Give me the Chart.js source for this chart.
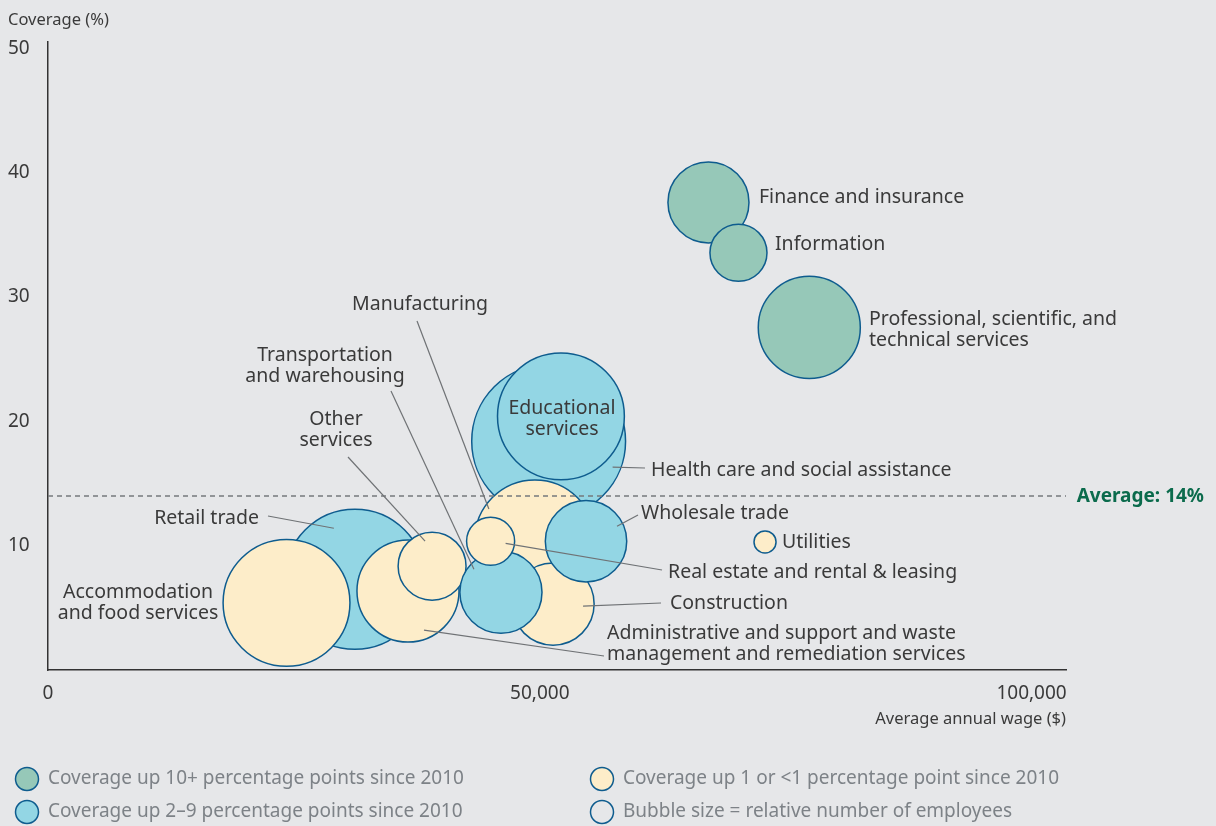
<!DOCTYPE html>
<html>
<head>
<meta charset="utf-8">
<script src="https://cdn.jsdelivr.net/npm/chart.js@4"></script>
<style>
  html, body { margin: 0; padding: 0; background: #e6e7e9; }
  canvas { display: block; }
</style>
</head>
<body>
<canvas id="bubble" width="1216" height="826"></canvas>
<script>
// draw order matters: later bubbles sit on top
var industries = [
  'Retail trade', 'Accommodation and food services', 'Administrative and support',
  'Other services', 'Health care and social assistance', 'Educational services',
  'Manufacturing', 'Construction', 'Transportation and warehousing',
  'Real estate and rental & leasing', 'Wholesale trade', 'Finance and insurance',
  'Information', 'Professional, scientific, and technical services', 'Utilities'
];
var avgWage  = [31200, 24250, 36600, 39050, 50900, 52150, 49500, 51350, 46050, 45000, 54700, 67150, 70200, 77400, 72900];
var coverage = [7.3, 5.4, 6.35, 8.35, 18.4, 20.4, 10.45, 5.3, 6.25, 10.35, 10.35, 37.6, 33.55, 27.55, 10.3];
var employees = [16.6, 13.6, 8.8, 3.9, 20.0, 13.6, 12.2, 5.7, 5.7, 1.95, 5.6, 5.55, 2.75, 8.8, 0.41]; // millions
var growth = ['mid', 'low', 'low', 'low', 'mid', 'mid', 'low', 'low', 'mid', 'low', 'mid', 'high', 'high', 'high', 'low'];
var averageCoverage = 14;
var xTicks = [0, 50000, 100000];
var yTicks = [10, 20, 30, 40, 50];

var groupColors = { high: '#96c8b8', mid: '#93d6e4', low: '#fdedc9' };
var edge = '#0e5c8e';
var ink = '#3a3a3a';
var font = '"Noto Sans", sans-serif';

var points = avgWage.map(function(w, i) {
  return { x: w, y: coverage[i], r: 17.2 * Math.sqrt(employees[i]) };
});

// text spots: i = bubble index, lead = [labelX, labelY, dx, dy from bubble centre]
var labelSpots = [
  { i: 11, lines: ['Finance and insurance'], x: 759, y: 197, align: 'left' },
  { i: 12, lines: ['Information'], x: 775, y: 244, align: 'left' },
  { i: 13, lines: ['Professional, scientific, and', 'technical services'], x: 869, y: 319, align: 'left' },
  { i: 5, lines: ['Educational', 'services'], x: 562, y: 408, align: 'center' },
  { i: 4, lines: ['Health care and social assistance'], x: 651, y: 470, align: 'left', lead: [645, 468, 64, 26] },
  { i: 6, lines: ['Manufacturing'], x: 420, y: 304, align: 'center', lead: [417, 321, -46, -31] },
  { i: 8, lines: ['Transportation', 'and warehousing'], x: 325, y: 355, align: 'center', lead: [391, 391, -27, -23] },
  { i: 3, lines: ['Other', 'services'], x: 336, y: 419, align: 'center', lead: [348, 457, -7, -25] },
  { i: 0, lines: ['Retail trade'], x: 259, y: 518, align: 'right', lead: [268, 516, -21, -51] },
  { i: 1, lines: ['Accommodation', 'and food services'], x: 138, y: 592, align: 'center' },
  { i: 10, lines: ['Wholesale trade'], x: 641, y: 513, align: 'left', lead: [638, 515, 31, -15] },
  { i: 14, lines: ['Utilities'], x: 782, y: 542, align: 'left' },
  { i: 9, lines: ['Real estate and rental & leasing'], x: 668, y: 572, align: 'left', lead: [662, 570, 15, 2] },
  { i: 7, lines: ['Construction'], x: 670, y: 603, align: 'left', lead: [661, 603, 30, 2] },
  { i: 2, lines: ['Administrative and support and waste', 'management and remediation services'], x: 607, y: 633, align: 'left', lead: [604, 656, 16, 39] }
];

var legendItems = [
  { text: 'Coverage up 10+ percentage points since 2010', fill: groupColors.high, x: 27, y: 779 },
  { text: 'Coverage up 2\u20139 percentage points since 2010', fill: groupColors.mid, x: 27, y: 812 },
  { text: 'Coverage up 1 or <1 percentage point since 2010', fill: groupColors.low, x: 602, y: 779 },
  { text: 'Bubble size = relative number of employees', fill: null, x: 602, y: 812 }
];

var annotate = {
  id: 'annotate',
  afterDatasetsDraw: function(chart) {
    var c = chart.ctx;
    var area = chart.chartArea;
    var pts = chart.getDatasetMeta(0).data;
    var ay = chart.scales.y.getPixelForValue(averageCoverage);
    c.save();

    c.strokeStyle = '#76797c';
    c.lineWidth = 1.5;
    c.setLineDash([5, 4]);
    c.beginPath();
    c.moveTo(area.left, ay);
    c.lineTo(area.right, ay);
    c.stroke();
    c.setLineDash([]);

    c.font = 'bold 19px ' + font;
    c.fillStyle = '#0b6b4c';
    c.textAlign = 'right';
    c.textBaseline = 'middle';
    c.fillText('Average: ' + averageCoverage + '%', 1204, ay + 1);

    c.strokeStyle = '#6f7275';
    c.lineWidth = 1.2;
    labelSpots.forEach(function(s) {
      if (!s.lead) return;
      var p = pts[s.i];
      c.beginPath();
      c.moveTo(s.lead[0], s.lead[1]);
      c.lineTo(p.x + s.lead[2], p.y + s.lead[3]);
      c.stroke();
    });

    c.font = '19.5px ' + font;
    c.fillStyle = ink;
    labelSpots.forEach(function(s) {
      c.textAlign = s.align;
      s.lines.forEach(function(t, k) {
        c.fillText(t, s.x, s.y + k * 21);
      });
    });

    // axis titles
    c.font = '16.5px ' + font;
    c.textAlign = 'left';
    c.fillText('Coverage (%)', 8, 20);
    c.textAlign = 'right';
    c.fillText('Average annual wage ($)', area.right, 719);

    // legend
    c.font = '19px ' + font;
    c.textAlign = 'left';
    legendItems.forEach(function(l) {
      c.beginPath();
      c.arc(l.x, l.y, 11.5, 0, Math.PI * 2);
      if (l.fill) {
        c.fillStyle = l.fill;
        c.fill();
      }
      c.strokeStyle = edge;
      c.lineWidth = 1.5;
      c.stroke();
      c.fillStyle = '#7d8287';
      c.fillText(l.text, l.x + 21, l.y);
    });
    c.restore();
  }
};

var ctx = document.getElementById('bubble').getContext('2d');
var myChart = new Chart(ctx, {
  type: 'bubble',
  data: {
    labels: industries,
    datasets: [{
      label: 'Industries',
      data: points,
      backgroundColor: growth.map(function(g) { return groupColors[g]; }),
      borderColor: edge,
      borderWidth: 1.5,
      clip: false
    }]
  },
  options: {
    responsive: false,
    animation: false,
    events: [],
    layout: { autoPadding: false, padding: { left: 8, top: 42, right: 150, bottom: 0 } },
    plugins: {
      legend: { display: false },
      tooltip: { enabled: false }
    },
    scales: {
      x: {
        type: 'linear',
        min: 0,
        max: 103500,
        afterBuildTicks: function(s) { s.ticks = xTicks.map(function(v) { return { value: v }; }); },
        afterFit: function(s) { s.height = 156; },
        grid: { display: false, drawTicks: false },
        border: { display: true, color: '#333333', width: 1.5 },
        ticks: {
          color: ink,
          font: { family: font, size: 19 },
          padding: 12,
          maxRotation: 0,
          callback: function(v) { return v.toLocaleString('en-US'); }
        }
      },
      y: {
        type: 'linear',
        min: 0,
        max: 50.5,
        afterBuildTicks: function(s) { s.ticks = yTicks.map(function(v) { return { value: v }; }); },
        afterFit: function(s) { s.width = 40; },
        grid: { display: false, drawTicks: false },
        border: { display: true, color: '#333333', width: 1.5 },
        ticks: {
          color: ink,
          font: { family: font, size: 19 },
          crossAlign: 'far',
          padding: 0
        }
      }
    }
  },
  plugins: [annotate]
});
</script>
</body>
</html>
